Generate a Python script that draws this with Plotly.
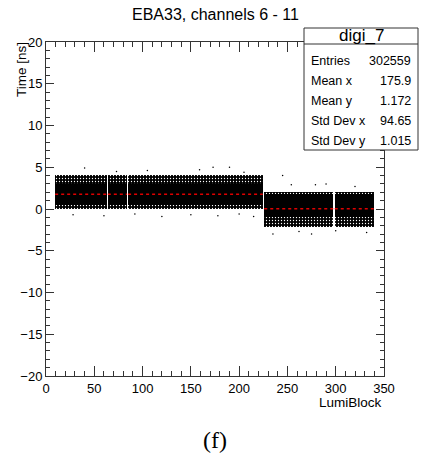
import plotly.graph_objects as go

# ---------------- data ----------------
# LumiBlock pieces of the filled band (gaps are missing LBs)
piece_start = [9.5, 64.0, 85.0, 226.0, 299.0]
piece_end = [63.0, 84.0, 224.5, 297.5, 340.0]
# timing band per piece [ns]
band_bottom = [0.0, 0.0, 0.0, -2.1, -2.1]
core_low = [0.45, 0.45, 0.45, -0.95, -0.95]
core_high = [3.05, 3.05, 3.05, 1.8, 1.8]
band_top = [4.1, 4.1, 4.1, 2.05, 2.05]
profile_mean = [1.76, 1.76, 1.76, 0.04, 0.04]

# sparse outlier entries (LumiBlock, Time)
out_lb = [40, 73, 105, 159, 173, 190, 205, 28, 60, 92, 120, 150, 178, 200, 215,
          235, 245, 254, 279, 290, 275, 300, 332, 320, 262]
out_t = [4.9, 4.5, 4.6, 4.7, 5.0, 5.0, 4.4, -0.7, -0.8, -0.6, -0.9, -0.7, -0.8,
         -0.6, -0.9, -3.0, 4.0, 2.9, 2.9, 3.0, -3.0, -2.6, -2.8, 2.7, -2.7]

stats_labels = ["Entries", "Mean x", "Mean y", "Std Dev x", "Std Dev y"]
stats_values = ["302559", "175.9", "1.172", "94.65", "1.015"]
hist_name = "digi_7"
title_text = "EBA33, channels 6 - 11"
x_title = "LumiBlock"
y_title = "Time [ns]"

# ---------------- figure ----------------
W, H = 422, 466
L, R, T, B = 46, 384, 42, 376
FONT = "Liberation Sans, Arial, sans-serif"


def px(x):
    return (x - L) / (R - L)


def py(y):
    return (B - y) / (B - T)


fig = go.Figure()

centers = [(s + e) / 2 for s, e in zip(piece_start, piece_end)]
widths = [e - s for s, e in zip(piece_start, piece_end)]

speckle = dict(shape=".", fillmode="replace", bgcolor="black",
               fgcolor="white", size=3, solidity=0.15)

# solid core
fig.add_trace(go.Bar(
    x=centers, width=widths, base=core_low,
    y=[h - l for l, h in zip(core_low, core_high)],
    marker=dict(color="black", line=dict(width=0)),
    hoverinfo="skip", showlegend=False))
# speckled fringe above
fig.add_trace(go.Bar(
    x=centers, width=widths, base=core_high,
    y=[t - h for h, t in zip(core_high, band_top)],
    marker=dict(color="black", line=dict(width=0), pattern=speckle),
    hoverinfo="skip", showlegend=False))
# speckled fringe below
fig.add_trace(go.Bar(
    x=centers, width=widths, base=band_bottom,
    y=[l - b for b, l in zip(band_bottom, core_low)],
    marker=dict(color="black", line=dict(width=0), pattern=speckle),
    hoverinfo="skip", showlegend=False))

# outliers
fig.add_trace(go.Scatter(
    x=out_lb, y=out_t, mode="markers",
    marker=dict(color="black", size=1.5), hoverinfo="skip", showlegend=False))

# red profile
for s, e, m in zip(piece_start, piece_end, profile_mean):
    fig.add_trace(go.Scatter(
        x=[s, e], y=[m, m], mode="lines",
        line=dict(color="#e00000", width=1.5, dash="dot"),
        hoverinfo="skip", showlegend=False))

axis_common = dict(
    showgrid=False, zeroline=False, showline=True, linecolor="#333",
    linewidth=1, mirror="ticks", ticks="inside", tickcolor="#333",
    tickfont=dict(family=FONT, size=13, color="black"),
)

fig.update_layout(
    width=W, height=H,
    margin=dict(l=L, r=W - R, t=T, b=H - B),
    paper_bgcolor="white", plot_bgcolor="white",
    barmode="overlay", bargap=0,
    xaxis=dict(range=[0, 350], dtick=50, tick0=0, ticklen=10,
               minor=dict(dtick=10, ticklen=5, ticks="inside", tickcolor="#333"),
               **axis_common),
    yaxis=dict(range=[-20, 20], dtick=5, tick0=0, ticklen=8,
               minor=dict(dtick=1, ticklen=4, ticks="inside", tickcolor="#333"),
               **axis_common),
)

ann = []
ann.append(dict(text=title_text, x=px(215), y=py(15), xref="paper", yref="paper",
                showarrow=False, xanchor="center", yanchor="middle",
                font=dict(family=FONT, size=16, color="black")))
ann.append(dict(text=x_title, x=px(384), y=py(402), xref="paper", yref="paper",
                showarrow=False, xanchor="right", yanchor="middle",
                font=dict(family=FONT, size=13.5, color="black")))
ann.append(dict(text=y_title, x=px(21.5), y=py(40), xref="paper", yref="paper",
                showarrow=False, xanchor="center", yanchor="top", textangle=-90,
                font=dict(family=FONT, size=13.5, color="black")))
ann.append(dict(text="(f)", x=px(215), y=py(440), xref="paper", yref="paper",
                showarrow=False, xanchor="center", yanchor="middle",
                font=dict(family="Liberation Serif, DejaVu Serif, serif", size=24,
                          color="black")))

# stats box
bx0, bx1, by0, by1, bdiv = 304, 418, 28, 150, 44
shapes = [
    dict(type="rect", xref="paper", yref="paper", x0=px(bx0), x1=px(bx1),
         y0=py(by1), y1=py(by0), fillcolor="white",
         line=dict(color="#333", width=1), layer="above"),
    dict(type="line", xref="paper", yref="paper", x0=px(bx0), x1=px(bx1),
         y0=py(bdiv), y1=py(bdiv), line=dict(color="#333", width=1), layer="above"),
]
ann.append(dict(text=hist_name, x=px((bx0 + bx1) / 2), y=py(36), xref="paper",
                yref="paper", showarrow=False, xanchor="center", yanchor="middle",
                font=dict(family=FONT, size=17, color="black")))
row_y = [61, 81, 101, 121, 141]
for lab, val, ry in zip(stats_labels, stats_values, row_y):
    ann.append(dict(text=lab, x=px(309), y=py(ry), xref="paper", yref="paper",
                    showarrow=False, xanchor="left", yanchor="middle",
                    font=dict(family=FONT, size=12.5, color="black")))
    ann.append(dict(text=val, x=px(413), y=py(ry), xref="paper", yref="paper",
                    showarrow=False, xanchor="right", yanchor="middle",
                    font=dict(family=FONT, size=12.5, color="black")))

fig.update_layout(annotations=ann, shapes=shapes)
fig.write_html(
    "out.html",
    config={"displayModeBar": False},
    post_script="document.body.style.margin='0';document.body.style.overflow='hidden';",
)
